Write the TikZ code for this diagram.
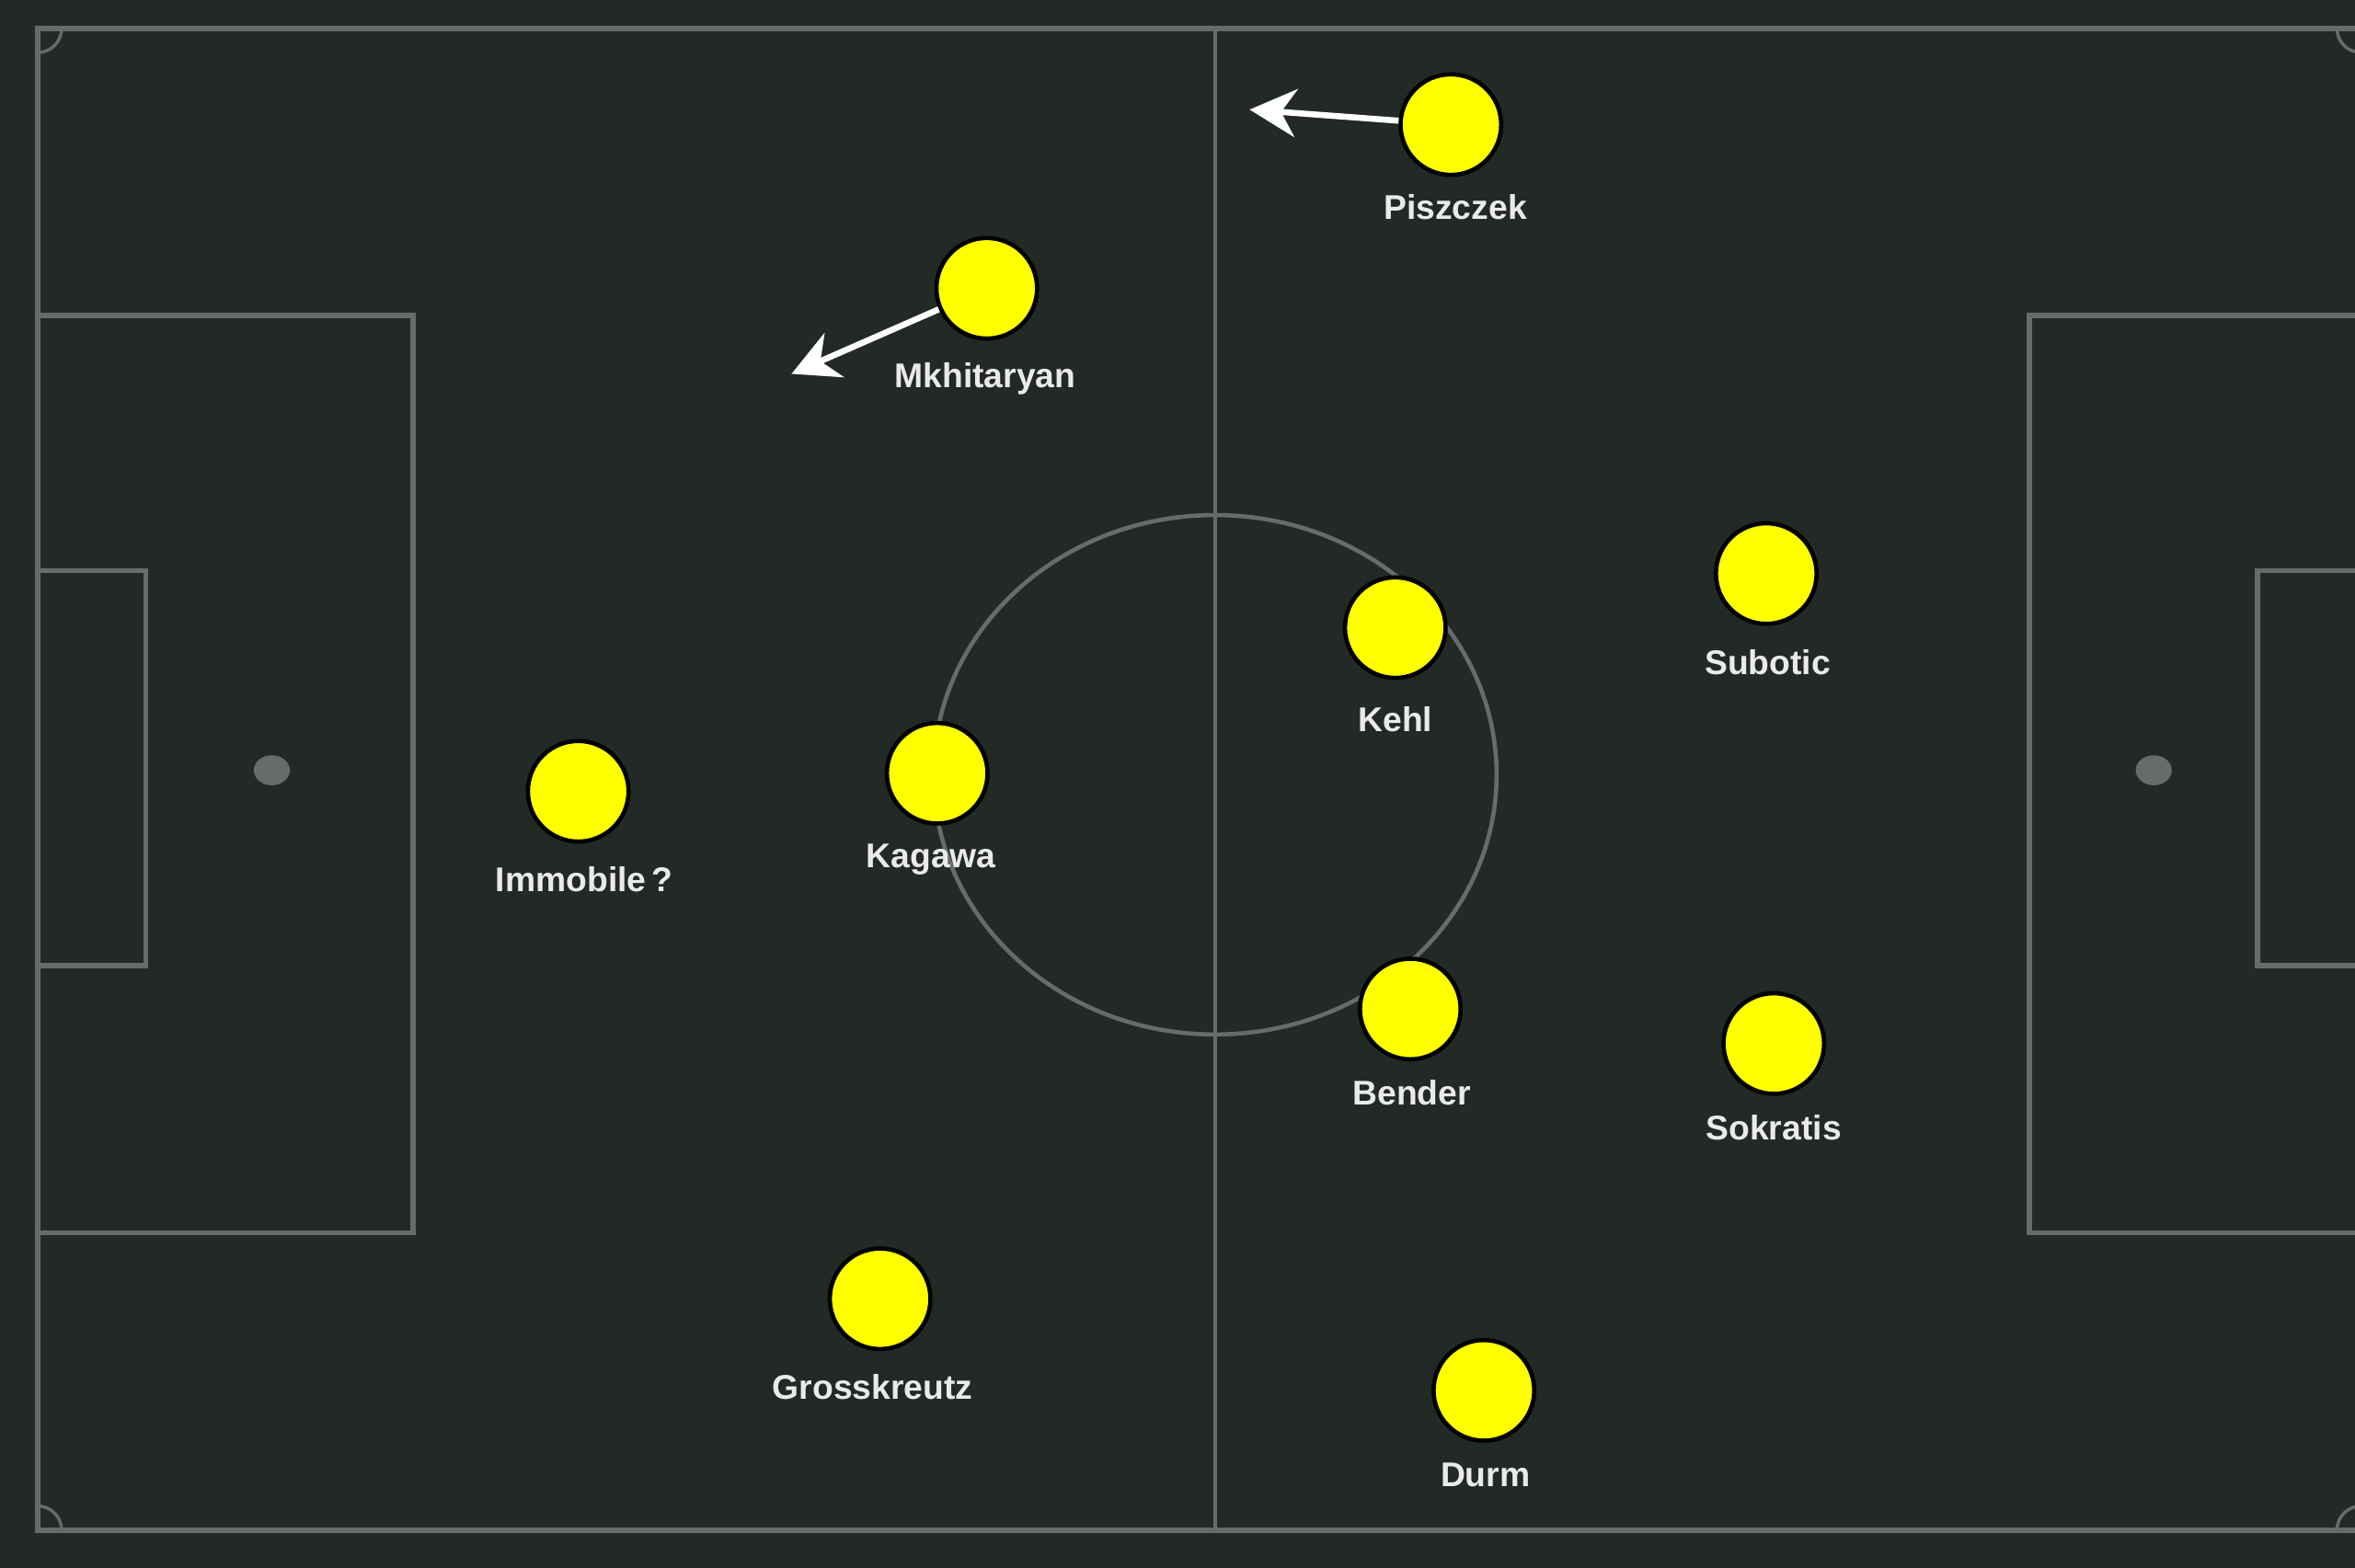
\documentclass[tikz,border=0pt]{standalone}
\usepackage{fontspec}
\setmainfont{Liberation Sans}
\usepackage{tikz}
\usetikzlibrary{arrows.meta,positioning,shapes}

\definecolor{pitchbg}{RGB}{35,41,36}
\definecolor{chalk}{RGB}{102,108,103}
\definecolor{bvbyellow}{RGB}{255,255,0}
\definecolor{namecol}{RGB}{234,234,234}

\begin{document}
\begin{tikzpicture}[x=0.02cm,y=-0.02cm,
  player/.style={circle,draw=black,fill=bvbyellow,line width=1.6pt,minimum size=1.34cm,inner sep=0pt},
  plabel/.style={anchor=base,text=namecol,inner sep=0pt,font=\bfseries\fontsize{13}{15}\selectfont},
  runarrow/.style={draw=white,line width=2.3pt,-{Stealth[length=0.62cm,width=0.64cm,inset=0.2cm]}},
  chalkline/.style={draw=chalk,line width=2pt}]

  % Pitch
  \fill[pitchbg] (0,0) rectangle (1568,1044);
  \useasboundingbox (0,0) rectangle (1568,1044);
  \begin{scope}
    \clip (0,0) rectangle (1568,1044);
    \draw[chalkline] (25,19) rectangle (1572,1019);
    \draw[chalkline,line width=1.2pt] (809,19) -- (809,1019);
    \draw[chalkline,line width=1.6pt] (809,516) ellipse [x radius=3.75cm,y radius=3.46cm];
    % Boxes
    \draw[chalkline] (25,210) rectangle (275,821);
    \draw[chalkline] (25,380) rectangle (97,643);
    \draw[chalkline] (1351,210) rectangle (1600,821);
    \draw[chalkline] (1503,380) rectangle (1600,643);
    % Spots
    \fill[chalk] (181,513) ellipse [x radius=0.24cm,y radius=0.2cm];
    \fill[chalk] (1434,513) ellipse [x radius=0.24cm,y radius=0.2cm];
  \end{scope}
  % Corner arcs
  \begin{scope}
    \clip (25,19) rectangle (1572,1019);
    \draw[chalkline,line width=1.2pt] (25,19) circle [radius=0.32cm];
    \draw[chalkline,line width=1.2pt] (25,1019) circle [radius=0.32cm];
    \draw[chalkline,line width=1.2pt] (1572,19) circle [radius=0.32cm];
    \draw[chalkline,line width=1.2pt] (1572,1019) circle [radius=0.32cm];
  \end{scope}

  % Players
  \node[player] (psz) at (966,83) {};
  \node[player] (mkh) at (657,192) {};
  \node[player] (keh) at (929,418) {};
  \node[player] (sub) at (1176,382) {};
  \node[player] (imm) at (385,527) {};
  \node[player] (kag) at (624,515) {};
  \node[player] (ben) at (939,672) {};
  \node[player] (sok) at (1181,695) {};
  \node[player] (gro) at (586,865) {};
  \node[player] (dur) at (988,926) {};

  % Names
  \node[plabel] (pszl) at (969,146) {Piszczek};
  \node[plabel] (mkhl) at (656,258) {Mkhitaryan};
  \node[plabel] (kehl) at (929,487) {Kehl};
  \node[plabel] (subl) at (1177,449) {Subotic};
  \node[plabel] (imml) at (389,594) {Immobile\,?};
  \node[plabel] (kagl) at (620,578) {Kagawa};
  \node[plabel] (benl) at (940,736) {Bender};
  \node[plabel] (sokl) at (1181,759) {Sokratis};
  \node[plabel] (grol) at (581,932) {Grosskreutz};
  \node[plabel] (durl) at (989,990) {Durm};

  % Runs
  \coordinate (pszrun) at (832,73);
  \coordinate (mkhrun) at (527,249);
  \draw[runarrow] (psz) -- (pszrun);
  \draw[runarrow] (mkh) -- (mkhrun);
\end{tikzpicture}
\end{document}
